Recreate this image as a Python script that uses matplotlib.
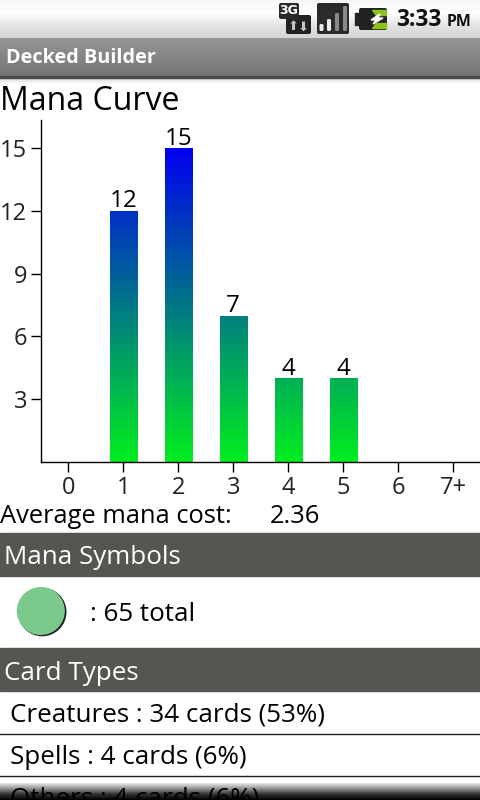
import numpy as np
import matplotlib
matplotlib.use("Agg")
import matplotlib.pyplot as plt
from matplotlib.patches import Rectangle, Circle, FancyBboxPatch, Polygon
from matplotlib.colors import LinearSegmentedColormap

categories = ["0", "1", "2", "3", "4", "5", "6", "7+"]
counts = [0, 12, 15, 7, 4, 4, 0, 0]
y_ticks = [3, 6, 9, 12, 15]
app_title = "Decked Builder"
chart_title = "Mana Curve"
average_label = "Average mana cost:"
average_value = "2.36"
section_symbols = "Mana Symbols"
symbols_text = ": 65 total"
section_types = "Card Types"
type_rows = ["Creatures : 34 cards (53%)", "Spells : 4 cards (6%)", "Others : 4 cards (6%)"]
clock = "3:33"
ampm = "PM"

plt.rcParams["font.family"] = ["Open Sans", "Noto Sans", "DejaVu Sans"]
W, H = 480, 800
fig = plt.figure(figsize=(W / 100, H / 100), dpi=100, facecolor="white")

ui = fig.add_axes([0, 0, 1, 1], zorder=0)
ui.set_xlim(0, W); ui.set_ylim(H, 0); ui.axis("off")

def vgrad(ax, x0, x1, y0, y1, colors, zorder=1):
    cm = LinearSegmentedColormap.from_list("g", colors)
    g = np.linspace(0, 1, 64).reshape(-1, 1)
    ax.imshow(g, extent=(x0, x1, y1, y0), cmap=cm, aspect="auto", zorder=zorder, interpolation="bilinear")

vgrad(ui, 0, W, 0, 38, ["#f6f6f6", "#ffffff", "#e4e4e4", "#d4d4d4"])
vgrad(ui, 0, W, 38, 77, ["#979797", "#737373"])
ui.add_patch(Rectangle((0, 76), W, 1.5, color="#4a4a4a", zorder=2))
vgrad(ui, 0, W, 77.5, 84, ["#d0d0d0", "#ffffff"])
ui.text(6.5, 58, app_title, fontsize=14.3, fontweight="bold", color="white", va="center", ha="left", zorder=4)

# status icons
ui.add_patch(FancyBboxPatch((286, 15), 25, 19, boxstyle="round,pad=0,rounding_size=2", fc="#222222", ec="none", zorder=3))
ui.add_patch(FancyBboxPatch((279, 3), 20, 16, boxstyle="round,pad=0,rounding_size=2", fc="#2a2a2a", ec="none", zorder=4))
ui.text(288.8, 11, "3G", fontsize=9, fontweight="bold", color="white", ha="center", va="center", zorder=5, family="DejaVu Sans")
ui.text(293.5, 27, "\u2b06", fontsize=9.5, color="#c4c4c4", ha="center", va="center", zorder=5, family="DejaVu Sans")
ui.text(303.5, 27, "\u2b07", fontsize=9.5, color="#c4c4c4", ha="center", va="center", zorder=5, family="DejaVu Sans")
ui.add_patch(FancyBboxPatch((317, 3), 32, 31, boxstyle="round,pad=0,rounding_size=2", fc="#2b2b2b", ec="none", zorder=3))
for x, top, c in zip([319.5, 327, 335, 343], [24, 19, 13, 6], ["#eeeeee", "#eeeeee", "#8a8a8a", "#8a8a8a"]):
    ui.add_patch(FancyBboxPatch((x, top), 4, 31 - top, boxstyle="round,pad=0,rounding_size=1.5", fc=c, ec="none", zorder=4))
ui.add_patch(FancyBboxPatch((359, 8), 28, 22, boxstyle="round,pad=0,rounding_size=2", fc="#222222", ec="none", zorder=3))
ui.add_patch(Rectangle((355, 13), 5, 12, color="#222222", zorder=3))
ui.add_patch(Polygon([(372, 10), (386, 10), (386, 15), (376, 15)], color="#8cc21f", zorder=4))
ui.add_patch(Polygon([(372, 28), (386, 28), (386, 23), (376, 23)], color="#8cc21f", zorder=4))
ui.add_patch(Polygon([(380, 14), (371, 20), (376, 20), (373, 24), (383, 18), (378, 18)], color="white", zorder=5))
ui.text(396, 20, clock, fontsize=16.4, fontweight="bold", color="#111111", ha="left", va="center", zorder=4)
ui.text(447, 21.5, ampm, fontsize=11.4, fontweight="bold", color="#111111", ha="left", va="center", zorder=4)

# text and sections
ui.text(0, 102, chart_title, fontsize=23, color="black", ha="left", va="center", zorder=4)
ui.text(0, 516.5, average_label, fontsize=18.4, color="black", ha="left", va="center", zorder=4)
ui.text(270, 516.5, average_value, fontsize=18.4, color="black", ha="left", va="center", zorder=4)
ui.add_patch(Rectangle((0, 533), W, 43, color="#545652", zorder=2))
ui.text(3.5, 558, section_symbols, fontsize=18.7, color="white", ha="left", va="center", zorder=4)
ui.add_patch(Circle((42.2, 612), 24.3, fc="#222222", ec="none", zorder=3))
ui.add_patch(Circle((40.8, 611), 24, fc="#7cc98c", ec="none", zorder=4))
ui.text(90, 614.5, symbols_text, fontsize=18.7, color="black", ha="left", va="center", zorder=4)
ui.add_patch(Rectangle((0, 648), W, 43, color="#545652", zorder=2))
ui.text(3.5, 673, section_types, fontsize=18.7, color="white", ha="left", va="center", zorder=4)
for yc, s in zip([715.5, 757.5], type_rows[:2]):
    ui.text(10, yc, s, fontsize=18.7, color="black", ha="left", va="center", zorder=4)
for y in [733.5, 775.5]:
    ui.plot([0, W], [y, y], color="#222222", lw=1, zorder=3)
ui.set_xlim(0, W); ui.set_ylim(H, 0)

# bottom fade
vgrad(ui, 0, W, 783, 800, ["#e8e8e8", "#909090", "#303030", "#000000"], zorder=6)
ui.text(10, 799.5, type_rows[2], fontsize=18.7, color="black", ha="left", va="center", zorder=7)
ui.set_xlim(0, W); ui.set_ylim(H, 0)

# chart
left, right, top, bottom = 41, 480, 120, 462
ax = fig.add_axes([left / W, 1 - bottom / H, (right - left) / W, (bottom - top) / H], zorder=2)
ax.patch.set_alpha(0)
xs = np.arange(len(categories))
xlim = (-0.496, 7.485)
ylim = (0, (bottom - top) / 20.92)
bars = ax.bar(xs, counts, width=0.5, color="none", linewidth=0)
cmap = LinearSegmentedColormap.from_list("mana", ["#00ee1e", "#0000f0"])
grad = np.linspace(0, 1, 256).reshape(-1, 1)
for b in bars:
    if b.get_height() > 0:
        im = ax.imshow(grad, extent=(xlim[0], xlim[1], 0, max(counts)), origin="lower", cmap=cmap, aspect="auto", zorder=2)
        im.set_clip_path(b)
ax.set_xlim(*xlim)
ax.set_ylim(*ylim)
for x, c in zip(xs, counts):
    if c > 0:
        ax.text(x, c - 0.12, str(c), ha="center", va="bottom", fontsize=17.4, color="black", zorder=3)
ax.set_xticks(xs, categories)
ax.set_yticks(y_ticks)
ax.tick_params(axis="both", labelsize=17, length=7, width=1, color="black", labelcolor="#222222", pad=3)
ax.tick_params(axis="y", pad=3)
for s in ["top", "right"]:
    ax.spines[s].set_visible(False)
for s in ["left", "bottom"]:
    ax.spines[s].set_linewidth(1)

fig.savefig("out.png", dpi=100)
